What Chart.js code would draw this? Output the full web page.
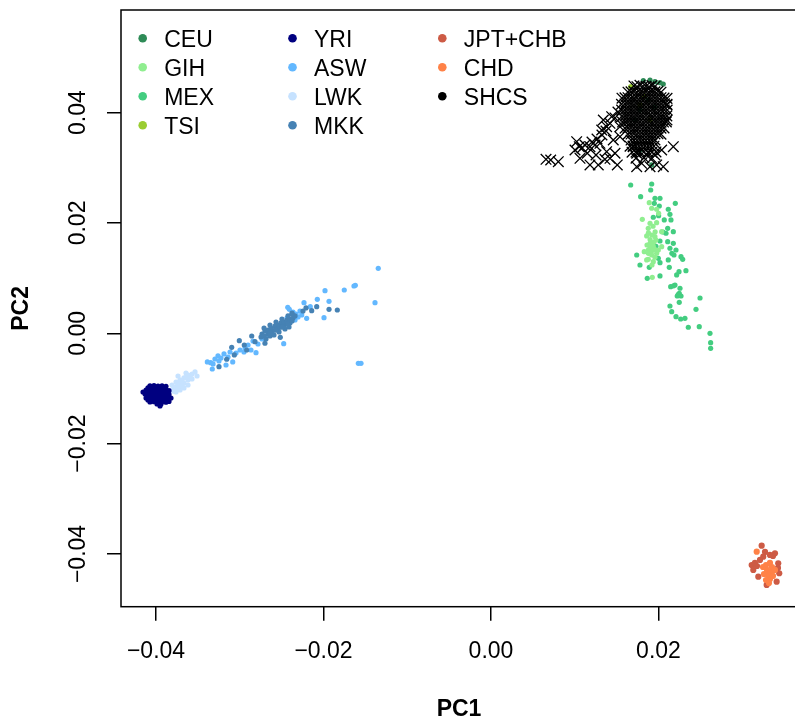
<!DOCTYPE html>
<html>
<head>
<meta charset="utf-8">
<script src="https://cdn.jsdelivr.net/npm/chart.js@4.4.0/dist/chart.umd.min.js"></script>
<style>
  html, body { margin: 0; padding: 0; background: #fff; overflow: hidden; }
  #pca { display: block; }
</style>
</head>
<body>
<canvas id="pca" width="800" height="719" style="width:800px;height:719px"></canvas>
<script>
// axis ticks and ranges (PC1 / PC2)
const xTicks = [-0.04, -0.02, 0, 0.02];
const yTicks = [-0.04, -0.02, 0, 0.02, 0.04];
const xRange = [-0.04418, 0.03654];
const yRange = [-0.04956, 0.05860];

// [PC1, PC2] per individual
const CEU = [[0.01819,0.04579],[0.01899,0.04591],[0.01958,0.04560],[0.02018,0.04542],[0.02057,0.04519],
  [0.01779,0.03322],[0.01919,0.03051],[0.01779,0.04048],[0.01875,0.04229],[0.01719,0.03867],[0.01950,0.04100]];
const TSI = [[0.01668,0.04470],[0.01779,0.04139],[0.01899,0.03867],[0.01830,0.04300]];
const MEX = [[0.01668,0.02688],[0.01919,0.02706],[0.01907,0.02597],[0.01787,0.02476],[0.01958,0.02447],
  [0.02018,0.02447],[0.01950,0.02356],[0.02010,0.02307],[0.02201,0.02356],[0.02117,0.02248],
  [0.02137,0.02157],[0.02002,0.02132],[0.02069,0.02054],[0.02149,0.02054],[0.01938,0.02103],
  [0.02110,0.01903],[0.02177,0.01842],[0.02090,0.01813],[0.02110,0.01660],[0.02177,0.01631],
  [0.02018,0.01673],[0.02137,0.01541],[0.02209,0.01510],[0.02185,0.01419],[0.02269,0.01388],
  [0.02289,0.01341],[0.01740,0.01419],[0.01779,0.01238],[0.01890,0.01196],[0.01998,0.01359],
  [0.02018,0.01280],[0.02117,0.01329],[0.02129,0.01196],[0.02245,0.01117],[0.02328,0.01135],
  [0.02217,0.01057],[0.01866,0.00997],[0.02018,0.01039],[0.02146,0.00845],[0.02197,0.00875],
  [0.02257,0.00816],[0.02248,0.00725],[0.02224,0.00676],[0.02269,0.00676],[0.02496,0.00640],
  [0.02248,0.00562],[0.02137,0.00495],[0.02158,0.00392],[0.02448,0.00435],[0.02209,0.00301],
  [0.02265,0.00259],[0.02316,0.00272],[0.02356,0.00109],[0.02487,0.00120],[0.02615,0.00000],
  [0.02623,-0.00170],[0.02623,-0.00272],[0.02054,0.01836],[0.01970,0.01577],[0.02160,0.01450],
  [0.02235,0.00700],[0.02180,0.00860]];
const GIH = [[0.01890,0.02367],[0.01919,0.02266],[0.01978,0.02248],[0.02002,0.02175],[0.01807,0.02066],
  [0.01899,0.01994],[0.01978,0.02005],[0.01878,0.01903],[0.02038,0.01842],[0.01859,0.01764],
  [0.01919,0.01782],[0.01958,0.01751],[0.01899,0.01631],[0.01938,0.01570],[0.01878,0.01510],
  [0.01998,0.01510],[0.01830,0.01479],[0.01919,0.01419],[0.01958,0.01378],[0.01878,0.01341],
  [0.01938,0.01298],[0.01859,0.01329],[0.01926,0.01015],[0.02038,0.01570],[0.01978,0.01450],
  [0.01899,0.01546],[0.01946,0.01655],[0.01863,0.01600],[0.01970,0.01691],[0.01922,0.01238],
  [0.01915,0.01480],[0.01955,0.01520],[0.01880,0.01450],[0.01930,0.01600],[0.01900,0.01700],
  [0.01960,0.01840],[0.01880,0.01820],[0.01935,0.01940]];
const YRI = [[-0.04072,-0.00955],[-0.04024,-0.00950],[-0.03976,-0.00958],[-0.03928,-0.00952],[-0.03881,-0.00962],
  [-0.04119,-0.01028],[-0.04072,-0.01020],[-0.04024,-0.01031],[-0.03976,-0.01025],[-0.03928,-0.01033],[-0.03881,-0.01022],[-0.03845,-0.01040],
  [-0.04131,-0.01100],[-0.04084,-0.01095],[-0.04036,-0.01104],[-0.03988,-0.01098],[-0.03940,-0.01106],[-0.03893,-0.01097],[-0.03845,-0.01108],
  [-0.04119,-0.01173],[-0.04072,-0.01168],[-0.04024,-0.01177],[-0.03976,-0.01170],[-0.03928,-0.01179],[-0.03881,-0.01171],[-0.03845,-0.01180],
  [-0.04072,-0.01245],[-0.04024,-0.01240],[-0.03976,-0.01249],[-0.03928,-0.01243],[-0.03881,-0.01250],[-0.03845,-0.01236],
  [-0.03988,-0.01282],[-0.03940,-0.01280],
  [-0.04096,-0.00991],[-0.04048,-0.00988],[-0.04000,-0.00993],[-0.03952,-0.00990],[-0.03905,-0.00995],
  [-0.04096,-0.01064],[-0.04048,-0.01061],[-0.04000,-0.01066],[-0.03952,-0.01062],[-0.03905,-0.01067],[-0.03857,-0.01070],
  [-0.04096,-0.01137],[-0.04048,-0.01134],[-0.04000,-0.01139],[-0.03952,-0.01135],[-0.03905,-0.01140],[-0.03857,-0.01142],
  [-0.04096,-0.01209],[-0.04048,-0.01206],[-0.04000,-0.01211],[-0.03952,-0.01207],[-0.03905,-0.01212],[-0.03857,-0.01214],
  [-0.04155,-0.01064],[-0.03821,-0.01173],[-0.03952,-0.01318]];
const LWK = [[-0.03809,-0.00937],[-0.03809,-0.01028],[-0.03761,-0.00883],[-0.03761,-0.00973],[-0.03761,-0.01064],
  [-0.03713,-0.00846],[-0.03713,-0.00937],[-0.03713,-0.01028],[-0.03666,-0.00810],[-0.03666,-0.00901],
  [-0.03666,-0.00991],[-0.03618,-0.00756],[-0.03618,-0.00846],[-0.03618,-0.00937],[-0.03570,-0.00738],
  [-0.03570,-0.00828],[-0.03534,-0.00701],[-0.03510,-0.00774],[-0.03737,-0.00774],[-0.03642,-0.00720],
  [-0.03785,-0.00980],[-0.03737,-0.00925],[-0.03690,-0.00870],[-0.03642,-0.00800],[-0.03690,-0.00955],
  [-0.03595,-0.00785],[-0.03737,-0.01010],[-0.03785,-0.01050]];
const ASW = [[-0.01346,0.01178],[-0.01385,0.00555],[-0.01584,-0.00544],[-0.01552,-0.00544],[-0.01636,0.00857],
  [-0.01620,0.00870],[-0.01752,0.00785],[-0.01982,0.00772],[-0.02074,0.00616],[-0.01934,0.00580],
  [-0.02233,0.00555],[-0.02158,0.00482],[-0.01994,0.00283],[-0.02201,0.00272],[-0.02260,0.00332],
  [-0.02408,0.00435],[-0.02475,-0.00189],[-0.02806,-0.00352],[-0.03084,-0.00520],[-0.03328,-0.00647],
  [-0.03387,-0.00520],[-0.03347,-0.00533],[-0.03164,-0.00575],[-0.03260,-0.00411],[-0.03224,-0.00448],
  [-0.03188,-0.00375],[-0.03248,-0.00502],[-0.03296,-0.00466],[-0.03140,-0.00430],[-0.03116,-0.00339],
  [-0.03319,-0.00556],[-0.03045,-0.00357],[-0.02937,-0.00266],[-0.02901,-0.00212],[-0.02866,-0.00303],
  [-0.02949,-0.00339],[-0.02997,-0.00303],[-0.02782,-0.00194],[-0.02842,-0.00140],[-0.02734,-0.00103],
  [-0.02687,-0.00049],[-0.02364,0.00386],[-0.02328,0.00350],[-0.02436,0.00277],[-0.02340,0.00241],
  [-0.02281,0.00404],[-0.02427,0.00471],[-0.02304,0.00295]];
const MKK = [[-0.02734,-0.00013],[-0.02699,0.00042],[-0.02663,0.00060],[-0.02663,-0.00013],[-0.02627,0.00096],
  [-0.02615,0.00024],[-0.02579,0.00132],[-0.02579,0.00060],[-0.02543,0.00150],[-0.02543,0.00078],
  [-0.02507,0.00187],[-0.02507,0.00114],[-0.02472,0.00205],[-0.02472,0.00132],[-0.02436,0.00241],
  [-0.02436,0.00169],[-0.02400,0.00259],[-0.02400,0.00187],[-0.02364,0.00277],[-0.02531,0.00024],
  [-0.02460,0.00078],[-0.02639,-0.00049],[-0.02591,-0.00031],[-0.02746,-0.00067],[-0.02687,-0.00103],
  [-0.02412,0.00114],[-0.02376,0.00350],[-0.02340,0.00314],
  [-0.02710,0.00096],[-0.02710,-0.00049],[-0.02639,0.00150],[-0.02639,0.00005],[-0.02567,0.00205],
  [-0.02567,0.00060],[-0.02496,0.00259],[-0.02496,0.00114],[-0.02424,0.00314],[-0.02424,0.00169],
  [-0.02376,0.00368],[-0.02376,0.00223],
  [-0.02081,0.00482],[-0.02141,0.00410],[-0.01934,0.00435],[-0.01835,0.00422],[-0.03005,-0.00134],
  [-0.03096,-0.00254],[-0.02857,-0.00049],[-0.02946,-0.00212],[-0.03248,-0.00605],[-0.03156,-0.00471],
  [-0.03065,-0.00393],[-0.02699,-0.00181],[-0.02516,-0.00073],[-0.02818,-0.00152],[-0.02917,-0.00303],
  [-0.02245,0.00404],[-0.02209,0.00459]];
const JPT_CHB = [[0.03232,-0.03850],[0.03113,-0.04200],[0.03152,-0.04163],[0.03391,-0.03988],[0.03367,-0.04037],
  [0.03251,-0.04049],[0.03430,-0.04169],[0.03442,-0.04350],[0.03411,-0.04502],[0.03292,-0.04562],
  [0.03192,-0.04412],[0.03132,-0.04290],[0.03212,-0.04109],[0.03331,-0.04018],[0.03272,-0.03964],
  [0.03427,-0.04254],[0.03176,-0.04218]];
const CHD = [[0.03173,-0.03959],[0.03284,-0.04200],[0.03331,-0.04163],[0.03355,-0.04236],[0.03296,-0.04290],
  [0.03343,-0.04327],[0.03307,-0.04381],[0.03367,-0.04399],[0.03331,-0.04454],[0.03284,-0.04472],
  [0.03260,-0.04363],[0.03391,-0.04290],[0.03319,-0.04526],[0.03248,-0.04236]];
const SHCS = [
  [0.01707,0.04483],[0.01779,0.04495],[0.01851,0.04478],[0.01922,0.04490],
  [0.01636,0.04370],[0.01707,0.04381],[0.01779,0.04366],[0.01851,0.04379],[0.01922,0.04372],[0.01994,0.04385],
  [0.01564,0.04262],[0.01636,0.04271],[0.01707,0.04258],[0.01779,0.04266],[0.01851,0.04270],[0.01922,0.04259],[0.01994,0.04268],[0.02066,0.04263],
  [0.01558,0.04152],[0.01636,0.04160],[0.01707,0.04149],[0.01779,0.04157],[0.01851,0.04163],[0.01922,0.04151],[0.01994,0.04158],[0.02072,0.04160],
  [0.01560,0.04045],[0.01636,0.04052],[0.01707,0.04041],[0.01779,0.04050],[0.01851,0.04044],[0.01922,0.04053],[0.01994,0.04046],[0.02070,0.04049],
  [0.01566,0.03936],[0.01636,0.03944],[0.01707,0.03933],[0.01779,0.03941],[0.01851,0.03946],[0.01922,0.03935],[0.01994,0.03942],[0.02066,0.03937],
  [0.01570,0.03828],[0.01636,0.03834],[0.01707,0.03825],[0.01779,0.03832],[0.01851,0.03836],[0.01922,0.03826],[0.01994,0.03833],[0.02060,0.03829],
  [0.01600,0.03718],[0.01672,0.03725],[0.01743,0.03716],[0.01815,0.03723],[0.01887,0.03719],[0.01958,0.03726],[0.02030,0.03717],
  [0.01636,0.03608],[0.01707,0.03615],[0.01779,0.03606],[0.01851,0.03614],[0.01922,0.03609],[0.01994,0.03617],
  [0.01707,0.03500],[0.01779,0.03507],[0.01851,0.03499],[0.01922,0.03506],
  [0.01660,0.03392],[0.01731,0.03398],[0.01803,0.03390],[0.01875,0.03397],[0.01946,0.03391],
  [0.01684,0.03283],[0.01779,0.03289],[0.01875,0.03281],[0.01970,0.03288],
  [0.01731,0.03174],[0.01827,0.03180],[0.01922,0.03172],
  // second pass through the dense core
  [0.01743,0.04470],[0.01815,0.04476],[0.01887,0.04468],[0.01958,0.04474],
  [0.01672,0.04376],[0.01743,0.04369],[0.01815,0.04377],[0.01887,0.04371],[0.01958,0.04378],[0.02030,0.04370],
  [0.01600,0.04267],[0.01672,0.04262],[0.01743,0.04269],[0.01815,0.04261],[0.01887,0.04266],[0.01958,0.04264],[0.02030,0.04270],[0.02102,0.04258],
  [0.01600,0.04157],[0.01672,0.04152],[0.01743,0.04160],[0.01815,0.04153],[0.01887,0.04158],[0.01958,0.04155],[0.02030,0.04161],[0.02102,0.04150],
  [0.01598,0.04049],[0.01672,0.04044],[0.01743,0.04051],[0.01815,0.04046],[0.01887,0.04050],[0.01958,0.04043],[0.02030,0.04052],[0.02104,0.04046],
  [0.01602,0.03940],[0.01672,0.03935],[0.01743,0.03943],[0.01815,0.03937],[0.01887,0.03941],[0.01958,0.03945],[0.02030,0.03936],[0.02100,0.03941],
  [0.01604,0.03831],[0.01672,0.03827],[0.01743,0.03834],[0.01815,0.03829],[0.01887,0.03833],[0.01958,0.03835],[0.02030,0.03827],[0.02094,0.03832],
  [0.01636,0.03722],[0.01707,0.03717],[0.01779,0.03724],[0.01851,0.03719],[0.01922,0.03725],[0.01994,0.03718],[0.02066,0.03722],
  [0.01672,0.03611],[0.01743,0.03606],[0.01815,0.03613],[0.01887,0.03608],[0.01958,0.03614],[0.02030,0.03610],
  [0.01672,0.03503],[0.01743,0.03498],[0.01815,0.03505],[0.01887,0.03500],[0.01958,0.03504],
  [0.01696,0.03394],[0.01767,0.03389],[0.01839,0.03396],[0.01910,0.03391],
  [0.01731,0.03285],[0.01827,0.03290],[0.01922,0.03283],
  // tail and stragglers
  [0.00657,0.03154],[0.00713,0.03141],[0.00804,0.03110],[0.01023,0.03473],[0.01003,0.03322],
  [0.01054,0.03382],[0.01122,0.03413],[0.01182,0.03382],[0.01242,0.03413],[0.01301,0.03444],
  [0.01341,0.03866],[0.01322,0.03685],[0.01381,0.03745],[0.01421,0.03806],[0.01441,0.03926],
  [0.01063,0.03172],[0.01182,0.03051],[0.01281,0.03051],[0.01361,0.03154],[0.01421,0.03172],
  [0.01481,0.03263],[0.01508,0.03051],[0.01150,0.03263],[0.01254,0.03232],[0.01381,0.03292],
  [0.01740,0.03020],[0.01799,0.03081],[0.01899,0.03020],[0.01979,0.03051],[0.02057,0.03020],
  [0.02177,0.03382],[0.01740,0.03263],[0.01859,0.03232],[0.01958,0.03232],[0.02038,0.03322],
  [0.01699,0.03382],[0.01540,0.03564],[0.01460,0.03504],[0.01373,0.03667],[0.01325,0.03594],
  [0.01266,0.03522],[0.01206,0.03467],[0.01087,0.03359],[0.01481,0.03903],[0.01516,0.04011],
  [0.01540,0.03745],[0.02101,0.03866],[0.02101,0.04138]];

const legendCols = [['CEU', 'GIH', 'MEX', 'TSI'], ['YRI', 'ASW', 'LWK', 'MKK'], ['JPT+CHB', 'CHD', 'SHCS']];

// drawing order, bottom to top
const pops = [
  { label: 'CEU', data: CEU, color: '#2E8B57' },
  { label: 'TSI', data: TSI, color: '#9ACD32' },
  { label: 'MEX', data: MEX, color: '#43CD80' },
  { label: 'GIH', data: GIH, color: '#90EE90' },
  { label: 'LWK', data: LWK, color: '#C6E2FF' },
  { label: 'YRI', data: YRI, color: '#000080' },
  { label: 'ASW', data: ASW, color: '#63B8FF' },
  { label: 'MKK', data: MKK, color: '#4682B4' },
  { label: 'JPT+CHB', data: JPT_CHB, color: '#CD5B45' },
  { label: 'CHD', data: CHD, color: '#FF8247' },
  { label: 'SHCS', data: SHCS, color: '#000000' }
];

const FONT = '"Liberation Sans", Arial, Helvetica, sans-serif';
Chart.defaults.font.family = FONT;
Chart.defaults.font.size = 23;
Chart.defaults.color = '#000';

function fmt(v) {
    return (v < 0 ? '\u2212' : '') + Math.abs(v).toFixed(2);
}

const datasets = pops.map((p, i) => {
    const ds = {
        label: p.label,
        data: p.data.map(d => ({ x: d[0], y: d[1] })),
        order: pops.length - i,
        backgroundColor: p.color,
        borderColor: p.color,
        pointRadius: 2.6,
        pointHoverRadius: 2.6,
        pointBorderWidth: 0
    };
    if (p.label === 'SHCS') {
        ds.pointStyle = 'crossRot';
        ds.pointRadius = 7.5;
        ds.pointHoverRadius = 7.5;
        ds.pointBorderWidth = 1.3;
    }
    if (p.label === 'JPT+CHB' || p.label === 'CHD') {
        ds.pointRadius = 3.1;
        ds.pointHoverRadius = 3.1;
    }
    return ds;
});

const boxPlugin = {
    id: 'box',
    afterDraw(chart) {
        const a = chart.chartArea;
        const ctx = chart.ctx;
        ctx.save();
        ctx.strokeStyle = '#000';
        ctx.lineWidth = 1.5;
        ctx.strokeRect(a.left, a.top, a.right - a.left, a.bottom - a.top);
        ctx.restore();
    }
};

const legendPlugin = {
    id: 'rlegend',
    afterDraw(chart) {
        const a = chart.chartArea;
        const ctx = chart.ctx;
        ctx.save();
        ctx.font = '23px ' + FONT;
        ctx.textBaseline = 'alphabetic';
        ctx.textAlign = 'left';
        legendCols.forEach((col, c) => {
            col.forEach((name, r) => {
                const pop = pops.find(p => p.label === name);
                const mx = a.left + 21.7 + c * 149.8;
                const base = a.top + 36.7 + r * 29;
                ctx.fillStyle = pop.color;
                ctx.beginPath();
                ctx.arc(mx, base - 8.4, 4.3, 0, Math.PI * 2);
                ctx.fill();
                ctx.fillStyle = '#000';
                ctx.fillText(name, mx + 21.5, base);
            });
        });
        ctx.restore();
    }
};

// keep the plot box where the reference has it: no extra label padding
function noPad(scale) {
    scale.paddingLeft = 0;
    scale.paddingRight = 0;
    scale.paddingTop = 0;
    scale.paddingBottom = 0;
}

new Chart(document.getElementById('pca'), {
    type: 'scatter',
    data: { datasets: datasets },
    options: {
        responsive: false,
        maintainAspectRatio: false,
        devicePixelRatio: 1,
        animation: false,
        events: [],
        layout: { autoPadding: false, padding: { top: 10, right: 3, left: 0, bottom: 0 } },
        plugins: { legend: { display: false }, tooltip: { enabled: false } },
        scales: {
            x: {
                type: 'linear',
                min: xRange[0],
                max: xRange[1],
                afterBuildTicks: scale => { scale.ticks = xTicks.map(v => ({ value: v })); },
                afterFit: scale => { scale.height = 112.3; noPad(scale); },
                border: { display: false },
                grid: { drawOnChartArea: false, drawTicks: true, tickLength: 14, color: '#000', lineWidth: 1.5 },
                ticks: { padding: 17, maxRotation: 0, callback: v => fmt(v) },
                title: { display: true, text: 'PC1', font: { weight: 'bold', size: 23, lineHeight: 1 }, padding: { top: 0, bottom: -2 } }
            },
            y: {
                type: 'linear',
                min: yRange[0],
                max: yRange[1],
                afterBuildTicks: scale => { scale.ticks = yTicks.map(v => ({ value: v })); },
                afterFit: scale => { scale.width = 121; noPad(scale); },
                border: { display: false },
                grid: { drawOnChartArea: false, drawTicks: true, tickLength: 14, color: '#000', lineWidth: 1.5 },
                ticks: { padding: -1, minRotation: 90, maxRotation: 90, crossAlign: 'center', callback: v => fmt(v) },
                title: { display: true, text: 'PC2', font: { weight: 'bold', size: 23, lineHeight: 1 }, padding: { top: 10, bottom: 0 } }
            }
        }
    },
    plugins: [boxPlugin, legendPlugin]
});
</script>
</body>
</html>
